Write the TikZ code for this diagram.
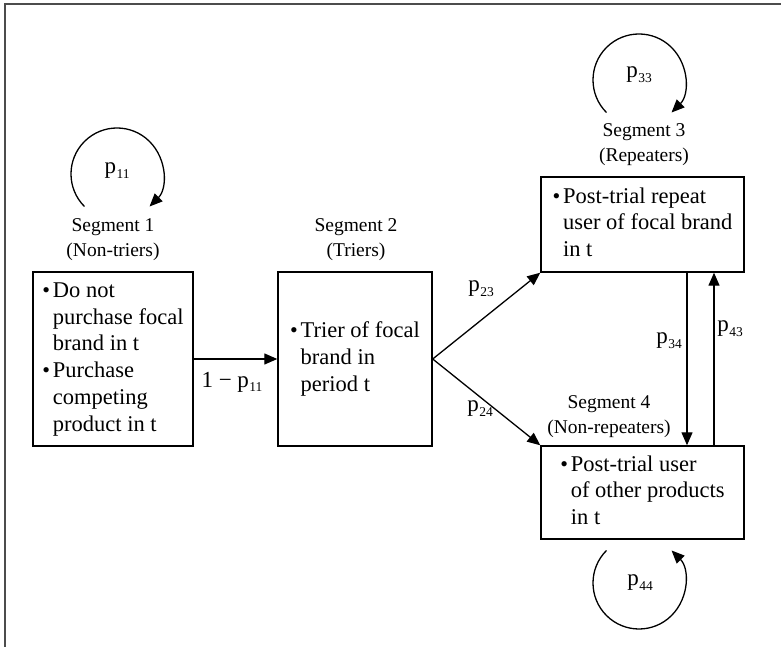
\documentclass[tikz,border=0pt]{standalone}
\usepackage{fontspec}
\setmainfont{Liberation Serif}
\usetikzlibrary{arrows.meta}

% bullet for the state descriptions
\newcommand\pbul{\makebox[10.5pt][l]{\raisebox{0pt}{\fontsize{22}{22}\selectfont\textbullet}}}
% transition probability p_{ij} with a small, low index
\newcommand\prob[1]{p\kern0.5pt\raisebox{-4.5pt}{\fontsize{13.5}{13.5}\selectfont #1}}

\tikzset{
  statebox/.style={draw, line width=1.4pt, inner sep=0pt, font=\fontsize{22.5}{26.7}\selectfont},
  seglabel/.style={align=center, inner sep=0pt, font=\fontsize{19.5}{25}\selectfont},
  plabel/.style={inner sep=0pt, font=\fontsize{23}{26}\selectfont},
  trans/.style={line width=1.3pt, -{Triangle[length=13pt,width=11pt]}},
  loop/.style={line width=1.3pt, -{Triangle[length=13pt,width=11pt]}},
  frameline/.style={draw=black!70, line width=2pt}
}

\begin{document}
\begin{tikzpicture}[x=1pt,y=1pt]
\useasboundingbox (0,0) rectangle (781,647);

% corner frame
\draw[frameline] (781,643) -- (5,643) -- (5,0);

% states
\node[statebox, minimum width=160pt, minimum height=174pt] (b1) at (113,288) {%
  \begin{tabular}{@{}l@{}l@{}}
  \pbul & Do not\\
        & purchase focal\\
        & brand in t\\
  \pbul & Purchase\\
        & competing\\
        & product in t
  \end{tabular}};
\node[statebox, minimum width=154pt, minimum height=174pt] (b2) at (355,288) {%
  \begin{tabular}{@{}l@{}l@{}}
  \pbul & Trier of focal\\
        & brand in\\
        & period t
  \end{tabular}};
\node[statebox, minimum width=203pt, minimum height=95pt] (b3) at (642.5,422.5) {%
  \begin{tabular}{@{}l@{}l@{}}
  \pbul & Post-trial repeat\\
        & user of focal brand\\
        & in t
  \end{tabular}};
\node[statebox, minimum width=203pt, minimum height=93pt] (b4) at (642.5,154.5) {%
  \begin{tabular}{@{}l@{}l@{}}
  \pbul & Post-trial user\\
        & of other products\\
        & in t
  \end{tabular}};

% segment titles
\node[seglabel] (s1) at (113,407) {Segment 1\\(Non-triers)};
\node[seglabel] (s2) at (356,407) {Segment 2\\(Triers)};
\node[seglabel] (s3) at (644,502) {Segment 3\\(Repeaters)};
\node[seglabel] (s4) at (609,230) {Segment 4\\(Non-repeaters)};

% transitions between segments
\draw[trans] (b1.east) -- (b2.west);
\draw[trans] (b2.east) -- (b3.south west);
\draw[trans] (b2.east) -- (b4.north west);
\draw[trans] ([xshift=44.5pt]b3.south) -- ([xshift=44.5pt]b4.north);
\draw[trans] ([xshift=71.5pt]b4.north) -- ([xshift=71.5pt]b3.south);

\node[plabel] (l12) at (232,265) {1 − \prob{11}};
\node[plabel] (l23) at (481,358) {\prob{23}};
\node[plabel] (l24) at (480,238) {\prob{24}};
\node[plabel] (l34) at (669,306) {\prob{34}};
\node[plabel] (l43) at (730,318) {\prob{43}};

% staying in the same segment
\coordinate (c1) at (117,473);
\coordinate (c3) at (639,567);
\coordinate (c4) at (639,64);
\draw[loop] ([shift={(225:46pt)}]c1) arc[start angle=225, end angle=-45, radius=46pt];
\draw[loop] ([shift={(225:46pt)}]c3) arc[start angle=225, end angle=-45, radius=46pt];
\draw[loop] ([shift={(135:46pt)}]c4) arc[start angle=135, end angle=405, radius=46pt];
\node[plabel] (l11) at (117,476) {\prob{11}};
\node[plabel] (l33) at (639,572) {\prob{33}};
\node[plabel] (l44) at (640,64) {\prob{44}};
\end{tikzpicture}
\end{document}
